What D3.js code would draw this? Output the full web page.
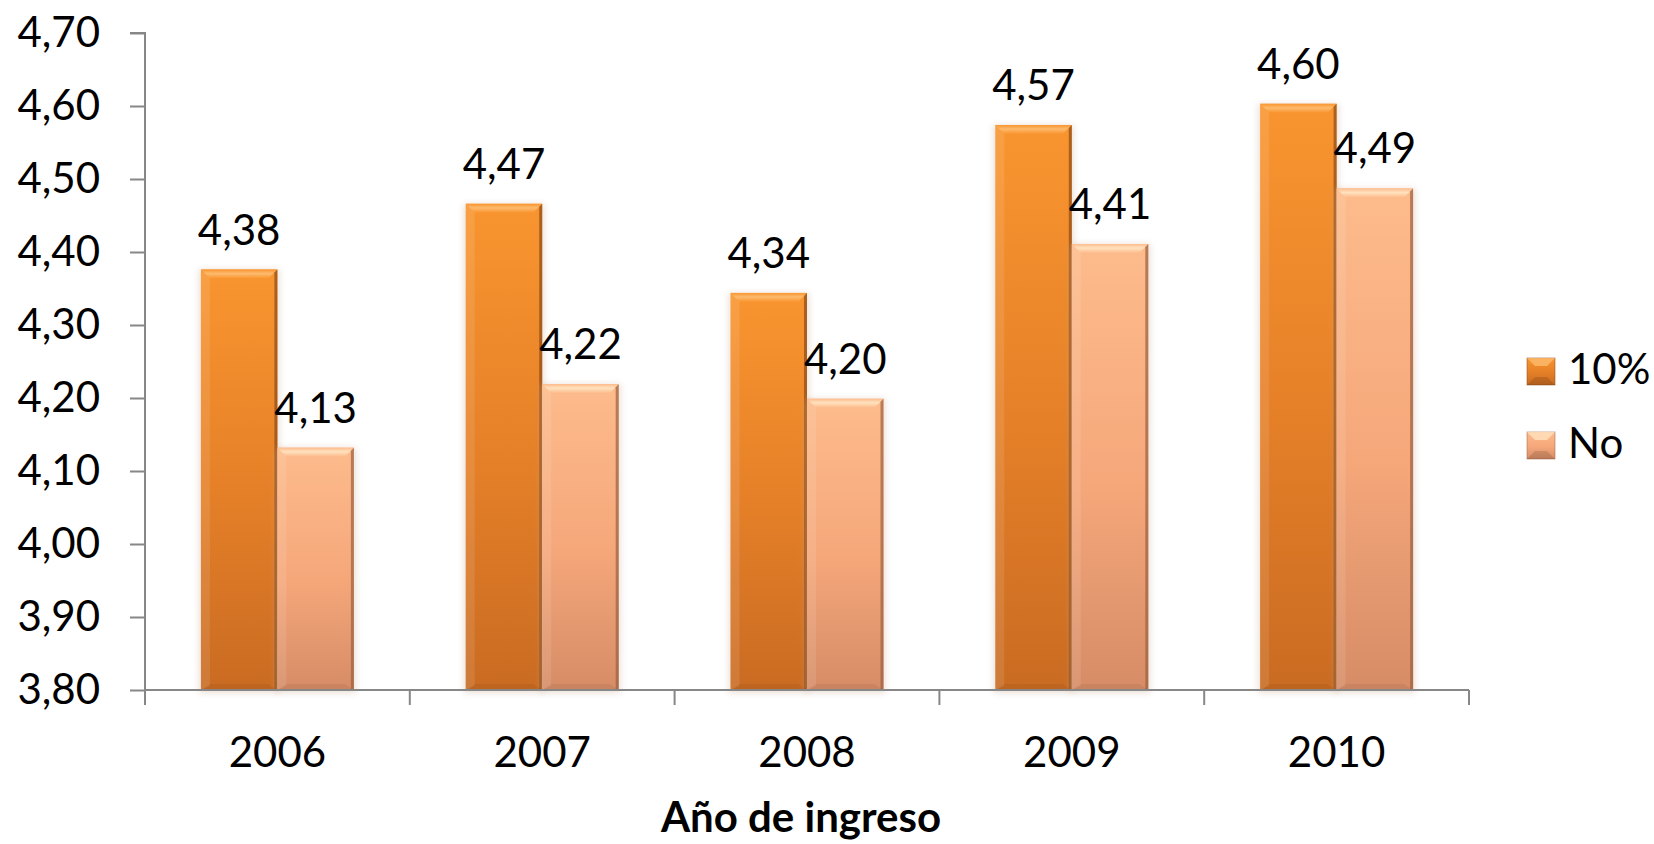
<!DOCTYPE html>
<html>
<head>
<meta charset="utf-8">
<script src="https://cdn.jsdelivr.net/npm/d3@7"></script>
<style>
  html, body { margin: 0; padding: 0; background: #fff; }
  svg { display: block; }
  text { font-family: Lato, "Open Sans", sans-serif; fill: #000; }
</style>
</head>
<body>
<svg id="chart" width="1654" height="844"></svg>
<script>
const categories = ["2006", "2007", "2008", "2009", "2010"];
const seriesNames = ["10%", "No"];
const values10 = [4.376, 4.466, 4.344, 4.574, 4.603];
const valuesNo = [4.132, 4.219, 4.199, 4.411, 4.487];
const yTicks = [3.8, 3.9, 4.0, 4.1, 4.2, 4.3, 4.4, 4.5, 4.6, 4.7];
const xTitle = "Año de ingreso";

const seriesValues = [values10, valuesNo];
const palette = {
  "10%": { top: "#F9952F", mid: "#E47F28", bot: "#C96B22", bevel: "#FDBA6E", edge: "#8A4A17" },
  "No":  { top: "#FDBB8C", mid: "#F5A77A", bot: "#D68C66", bevel: "#FFE2BF", edge: "#9B6040" }
};

const svg = d3.select("#chart");
const fmt = v => v.toFixed(2).replace(".", ",");

const plot = { left: 145, right: 1469, top: 33, bottom: 690 };

const y = d3.scaleLinear().domain([3.8, 4.7]).range([plot.bottom, plot.top]);
const x0 = d3.scaleBand().domain(categories).range([plot.left, plot.right]).paddingInner(0).paddingOuter(0);
const x1 = d3.scaleBand().domain(seriesNames).range([0, x0.bandwidth()]).paddingInner(0).paddingOuter(0.731);

// gradients
const defs = svg.append("defs");
seriesNames.forEach((s, i) => {
  const p = palette[s];
  const g = defs.append("linearGradient").attr("id", "grad" + i)
    .attr("x1", 0).attr("y1", 0).attr("x2", 0).attr("y2", 1);
  g.append("stop").attr("offset", "0%").attr("stop-color", p.top);
  g.append("stop").attr("offset", "55%").attr("stop-color", p.mid);
  g.append("stop").attr("offset", "100%").attr("stop-color", p.bot);
  const b = defs.append("linearGradient").attr("id", "bev" + i)
    .attr("x1", 0).attr("y1", 0).attr("x2", 0).attr("y2", 1);
  b.append("stop").attr("offset", "0%").attr("stop-color", p.top);
  b.append("stop").attr("offset", "45%").attr("stop-color", p.bevel);
  b.append("stop").attr("offset", "100%").attr("stop-color", p.top);
});
const blur = defs.append("filter").attr("id", "shadow").attr("x", "-20%").attr("y", "-5%").attr("width", "140%").attr("height", "110%");
blur.append("feGaussianBlur").attr("stdDeviation", 3);

// Y axis
const yAxis = d3.axisLeft(y).tickValues(yTicks).tickSize(15).tickPadding(30).tickFormat(fmt);
const yg = svg.append("g").attr("transform", `translate(${plot.left},0)`).call(yAxis);
yg.select(".domain").attr("stroke", "#878787").attr("stroke-width", 2).attr("d", `M-15,${plot.top}H0V${plot.bottom}`);
yg.selectAll(".tick line").attr("stroke", "#878787").attr("stroke-width", 2);
yg.selectAll(".tick text").style("font-size", "42px").attr("fill", "#000");

// bars
const groups = svg.append("g").selectAll("g").data(categories).join("g")
  .attr("transform", d => `translate(${x0(d)},0)`);

seriesNames.forEach((s, si) => {
  const p = palette[s];
  const w = x1.bandwidth();
  const bx = x1(s);
  groups.each(function(cat, ci) {
    const v = seriesValues[si][ci];
    const top = y(v);
    const h = plot.bottom - top;
    const g = d3.select(this);
    g.append("rect").attr("x", bx - 2).attr("y", top).attr("width", w + 4).attr("height", h + 3)
      .attr("fill", "#c8a890").attr("opacity", 0.35).attr("filter", "url(#shadow)");
    g.append("rect").attr("x", bx).attr("y", top).attr("width", w).attr("height", h)
      .attr("fill", `url(#grad${si})`);
    const bv = 9;
    g.append("path")
      .attr("d", `M${bx},${top}H${bx + w}L${bx + w - bv},${top + bv}H${bx + bv}Z`)
      .attr("fill", `url(#bev${si})`);
    g.append("path")
      .attr("d", `M${bx},${top}L${bx + bv},${top + bv}V${plot.bottom - 4}L${bx},${plot.bottom}Z`)
      .attr("fill", "#ffffff").attr("opacity", 0.10);
    g.append("path")
      .attr("d", `M${bx + w},${top}L${bx + w - 3},${top + 3}V${plot.bottom}H${bx + w}Z`)
      .attr("fill", p.edge).attr("opacity", 0.7);
    g.append("path")
      .attr("d", `M${bx},${plot.bottom}L${bx + bv},${plot.bottom - 6}H${bx + w - bv}L${bx + w},${plot.bottom}Z`)
      .attr("fill", "#000").attr("opacity", 0.06);
    g.append("text").attr("x", bx + w / 2).attr("y", top - 25)
      .attr("text-anchor", "middle").style("font-size", "42px").text(fmt(v));
  });
});

// X axis
const xg = svg.append("g");
xg.append("line").attr("x1", plot.left).attr("x2", plot.right).attr("y1", plot.bottom).attr("y2", plot.bottom)
  .attr("stroke", "#878787").attr("stroke-width", 2);
const bounds = categories.map(c => x0(c)).concat([x0(categories[categories.length - 1]) + x0.bandwidth()]);
xg.selectAll("line.tk").data(bounds).join("line").attr("class", "tk")
  .attr("x1", d => d).attr("x2", d => d).attr("y1", plot.bottom).attr("y2", plot.bottom + 15)
  .attr("stroke", "#878787").attr("stroke-width", 2);
xg.selectAll("text.cat").data(categories).join("text").attr("class", "cat")
  .attr("x", d => x0(d) + x0.bandwidth() / 2).attr("y", 767)
  .attr("text-anchor", "middle").style("font-size", "42px").text(d => d);

svg.append("text").attr("x", 801).attr("y", 832).attr("text-anchor", "middle")
  .style("font-size", "42px").style("font-weight", "bold").text(xTitle);

// legend
const leg = svg.append("g").selectAll("g").data(seriesNames).join("g")
  .attr("transform", (d, i) => `translate(1527,${358 + i * 74})`);
leg.each(function(s, i) {
  const g = d3.select(this);
  const p = palette[s];
  g.append("rect").attr("width", 28).attr("height", 27).attr("fill", `url(#grad${i})`)
    .attr("stroke", p.edge).attr("stroke-width", 1).attr("stroke-opacity", 0.5);
  g.append("path").attr("d", "M0,0H28L20,8H8Z").attr("fill", p.bevel).attr("opacity", 0.8);
  g.append("path").attr("d", "M0,27H28L20,19H8Z").attr("fill", "#000").attr("opacity", 0.12);
  g.append("text").attr("x", 41).attr("y", 26).style("font-size", "42px").text(s);
});
</script>
</body>
</html>
